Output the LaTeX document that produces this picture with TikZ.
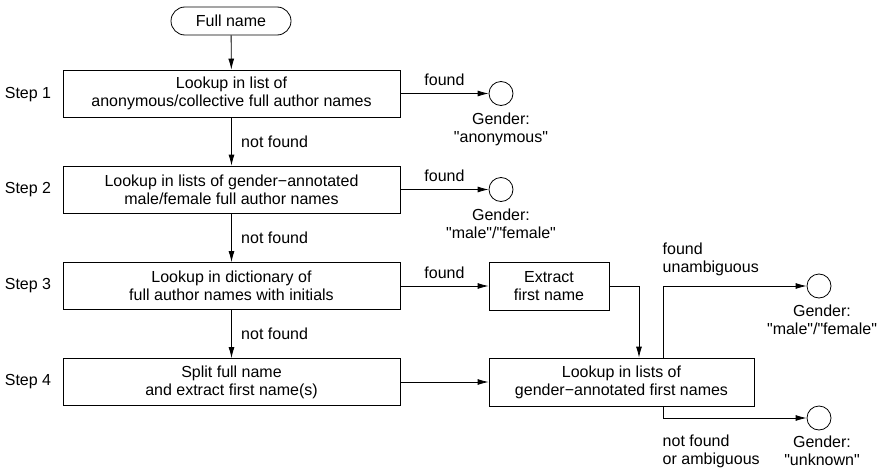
\documentclass[tikz,border=0pt]{standalone}
\usepackage{fontspec}
\setmainfont{Liberation Sans}[Ligatures=TeXOff]
\usetikzlibrary{arrows.meta,positioning}
\tikzset{
  stepbox/.style={rectangle,draw,align=center,minimum width=337,minimum height=47,inner sep=2pt},
  endpt/.style={circle,draw,minimum size=24,inner sep=0pt},
  outlbl/.style={align=center,inner sep=1pt}
}
\begin{document}
\begin{tikzpicture}[x=1pt,y=-1pt,font=\fontsize{16}{18}\selectfont,
  >={Latex[length=11pt,width=6pt]},line width=.8pt]
\useasboundingbox(0,0)rectangle(878,471);
%start
\node[rectangle,rounded corners=14pt,draw,minimum width=120,minimum height=28](start)at(231,21){Full name};
%steps
\node(l1)at(28,95){Step 1};
\node(l2)at(28,190){Step 2};
\node(l3)at(28,286){Step 3};
\node(l4)at(28,382){Step 4};
\node[stepbox](s1)at(231.5,93.5){Lookup in list of\\anonymous/collective full author names};
\node[stepbox](s2)at(231.5,189.5){Lookup in lists of gender−annotated\\male/female full author names};
\node[stepbox](s3)at(231.5,286){Lookup in dictionary of\\full author names with initials};
\node[stepbox](s4)at(231.5,382){Split full name\\and extract first name(s)};
%first name part
\node[rectangle,draw,align=center,minimum width=120,minimum height=48](ext)at(549,286){Extract\\first name};
\node[rectangle,draw,align=center,minimum width=265,minimum height=48](fn)at(621.5,382){Lookup in lists of\\gender−annotated first names};
%end points
\node[endpt](g1)at(501,93.5){};
\node[endpt](g2)at(501,189.5){};
\node[endpt](g3)at(819,286){};
\node[endpt](g4)at(819,418){};
\node[outlbl,below=6pt of g1](t1){Gender:\\"anonymous"};
\node[outlbl,below=6pt of g2](t2){Gender:\\"male"/"female"};
\node[outlbl](t3)at(822,320){Gender:\\"male"/"female"};
\node[outlbl](t4)at(822,451){Gender:\\"unknown"};
%arrows
\draw[->](start)--(s1);
\draw[->](s1)--node[right=6pt]{not found}(s2);
\draw[->](s2)--node[right=6pt]{not found}(s3);
\draw[->](s3)--node[right=6pt]{not found}(s4);
\draw[->](s1)--node[above=4pt]{found}(g1);
\draw[->](s2)--node[above=4pt]{found}(g2);
\draw[->](s3)--node[above=4pt]{found}(ext);
\draw[->](ext.east)-|([xshift=17.5]fn.north);
\draw[->](s4)--(fn);
\draw[->]([xshift=41.5]fn.north)|-(g3);
\draw[->]([xshift=41.5]fn.south)|-(g4);
%labels
\node[align=left,anchor=west](lbf)at(659,259){found\\unambiguous};
\node[align=left,anchor=west](lbn)at(659,451){not found\\or ambiguous};
\end{tikzpicture}
\end{document}
